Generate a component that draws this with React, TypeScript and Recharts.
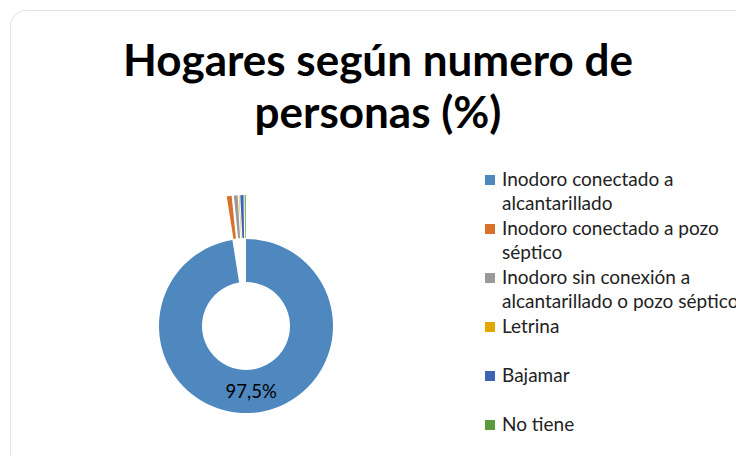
import React from "react";
import { PieChart, Pie, Cell, Sector, Legend } from "recharts";

const categories = [
  "Inodoro conectado a alcantarillado",
  "Inodoro conectado a pozo séptico",
  "Inodoro sin conexión a alcantarillado o pozo séptico",
  "Letrina",
  "Bajamar",
  "No tiene",
];
const legendLabels = [
  "Inodoro conectado a\nalcantarillado",
  "Inodoro conectado a pozo\nséptico",
  "Inodoro sin conexión a\nalcantarillado o pozo séptico",
  "Letrina",
  "Bajamar",
  "No tiene",
];
const values = [97.5, 0.9, 0.7, 0.1, 0.6, 0.2];
const colors = ["#4F87BF", "#D8722B", "#9A9A9A", "#E2A800", "#3F64B3", "#5C9B3C"];

const data = categories.map((name, i) => ({ name, value: values[i], label: legendLabels[i] }));

const RAD = Math.PI / 180;
const FONT = "Lato, 'Open Sans', sans-serif";

const explodedShape = (props: any) => {
  const { cx, cy, midAngle, index } = props;
  const off = index === 0 ? 0 : 44;
  const ncx = cx + off * Math.cos(-midAngle * RAD);
  const ncy = cy + off * Math.sin(-midAngle * RAD);
  return <Sector {...props} cx={ncx} cy={ncy} />;
};

const renderLabel = (props: any) => {
  const { cx, cy, midAngle, innerRadius, outerRadius, index, value } = props;
  if (index !== 0) return null;
  const r = (innerRadius + outerRadius) / 2;
  const x = cx + r * Math.cos(-midAngle * RAD);
  const y = cy + r * Math.sin(-midAngle * RAD);
  return (
    <text x={x} y={y} textAnchor="middle" dominantBaseline="central" fontFamily={FONT} fontSize={18.5} fill="#000">
      {String(value.toFixed(1)).replace(".", ",") + "%"}
    </text>
  );
};

const renderLegend = () => (
  <div style={{ fontFamily: FONT, fontSize: 19, color: "#222", textAlign: "left" }}>
    {data.map((d, i) => (
      <div key={d.name} style={{ height: 49, position: "relative" }}>
        <div style={{ position: "absolute", left: 0, top: 8, width: 10, height: 10, background: colors[i] }} />
        <div style={{ position: "absolute", left: 17, top: 0, whiteSpace: "pre", lineHeight: "24px" }}>{d.label}</div>
      </div>
    ))}
  </div>
);

export default function App() {
  return (
    <div style={{ position: "absolute", left: 0, top: 0, width: 736, height: 456, overflow: "hidden", background: "#fff" }}>
      <div
        style={{
          position: "absolute",
          left: 10,
          top: 10,
          width: 760,
          height: 470,
          border: "1.5px solid #e4e4e4",
          borderRadius: 16,
          boxSizing: "border-box",
        }}
      />
      <div
        style={{
          position: "absolute",
          left: 0,
          top: 33,
          width: 756,
          textAlign: "center",
          fontFamily: FONT,
          fontWeight: 700,
          fontSize: 44,
          lineHeight: "52px",
          color: "#000",
        }}
      >
        Hogares según numero de
        <br />
        personas (%)
      </div>
      <div style={{ position: "absolute", left: 0, top: 0 }}>
        <PieChart width={736} height={456} margin={{ top: 0, right: 0, bottom: 0, left: 0 }}>
          <Pie
            data={data}
            dataKey="value"
            nameKey="name"
            cx={246}
            cy={326}
            innerRadius={44}
            outerRadius={87}
            startAngle={90}
            endAngle={-270}
            stroke="none"
            shape={explodedShape}
            label={renderLabel}
            labelLine={false}
            isAnimationActive={false}
          >
            {data.map((d, i) => (
              <Cell key={d.name} fill={colors[i]} />
            ))}
          </Pie>
          <Legend
            content={renderLegend}
            layout="vertical"
            verticalAlign="top"
            align="right"
            wrapperStyle={{ left: 485, top: 167, width: 270 }}
          />
        </PieChart>
      </div>
    </div>
  );
}
